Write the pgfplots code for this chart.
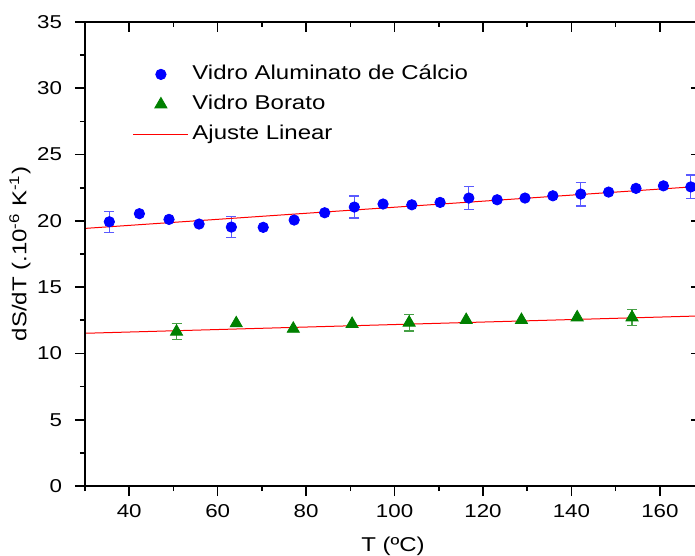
\documentclass[border=0pt]{standalone}
\usepackage{fontspec}
\setmainfont{Liberation Sans}[FakeStretch=1.2]
\usepackage{pgfplots}
\pgfplotsset{compat=1.18}
\definecolor{ogreen}{RGB}{0,128,0}
\definecolor{oblue}{RGB}{0,0,255}
\definecolor{ored}{RGB}{255,0,0}
\definecolor{eblue}{RGB}{90,90,255}
\definecolor{egreen}{RGB}{70,160,70}
\begin{document}
\begin{tikzpicture}
\pgfplotsset{
  base/.style={
    scale only axis, width=308pt, height=232pt,
    xmin=30, xmax=169.3, ymin=0, ymax=35,
    axis line style={line width=0.9pt, black},
    xtick={40,60,...,160}, minor xtick={30,50,...,170},
    ytick={0,5,...,35}, minor ytick={2.5,7.5,...,32.5},
    major tick length=5pt, minor tick length=2.5pt,
    every tick/.style={black, line width=0.8pt},
    /pgf/number format/assume math mode=true,
    ticklabel style={font=\fontsize{9.3}{11}\selectfont},
    clip=false,
  }
}
\begin{axis}[base, name=ax,
  xtick pos=bottom, ytick pos=left, tick align=outside,
  x tick label style={yshift=-0.5pt},
  y tick label style={xshift=-3pt},
  xlabel={T (ºC)},
  ylabel={dS/dT (.10\textsuperscript{-6} K\textsuperscript{-1})},
  label style={font=\fontsize{10}{12}\selectfont},
  x label style={at={(axis description cs:0.5,-0.129)}, anchor=center},
  y label style={at={(axis description cs:-0.1055,0.5)}, anchor=center},
  legend style={draw=none, fill=none, at={(axis description cs:0.0674,0.917)}, anchor=north west,
    font=\fontsize{10}{12}\selectfont,
    nodes={inner xsep=1.75pt, inner ysep=0pt, text height=7.5pt, text depth=2pt},
    row sep=5.5pt, cells={anchor=west}},
  legend image code/.code={\draw[mark repeat=2,mark phase=2] plot coordinates {(0pt,0pt)(13.75pt,0pt)(27.5pt,0pt)};},
]
% error bars (blue)
\addplot[draw=none, mark=none, forget plot,
  error bars/.cd, y dir=both, y explicit,
  error bar style={eblue, line width=0.6pt},
  error mark options={eblue, rotate=90, mark size=2.5pt, line width=0.6pt}]
  coordinates {
  (35.5,19.93) +- (0,0.80)
  (63.1,19.53) +- (0,0.78)
  (90.9,21.04) +- (0,0.83)
  (116.8,21.72) +- (0,0.88)
  (142.1,22.02) +- (0,0.90)
  (167.0,22.56) +- (0,0.90)
  };
% error bars (green)
\addplot[draw=none, mark=none, forget plot,
  error bars/.cd, y dir=both, y explicit,
  error bar style={egreen, line width=0.6pt},
  error mark options={egreen, rotate=90, mark size=2.5pt, line width=0.6pt}]
  coordinates {
  (50.7,11.64) +- (0,0.60)
  (103.3,12.32) +- (0,0.63)
  (153.7,12.72) +- (0,0.61)
  };
\addplot[only marks, mark=*, mark size=2.6pt, oblue, mark options={draw=oblue, fill=oblue}]
  coordinates {
  (35.5,19.93) (42.3,20.54) (49.0,20.11) (55.8,19.76) (63.1,19.53)
  (70.3,19.51) (77.3,20.06) (84.2,20.61) (90.9,21.04) (97.4,21.27)
  (103.9,21.21) (110.3,21.39) (116.8,21.72) (123.2,21.59) (129.5,21.72)
  (135.8,21.89) (142.1,22.02) (148.4,22.17) (154.6,22.45) (160.8,22.64)
  (167.0,22.56)
  };
\addlegendentry{Vidro Aluminato de Cálcio}
\addplot[only marks, mark=triangle*, mark size=3.5pt, ogreen, mark options={draw=ogreen, fill=ogreen}]
  coordinates {
  (50.7,11.64) (64.2,12.27) (77.1,11.86) (90.4,12.22) (103.3,12.32)
  (116.2,12.52) (128.7,12.52) (141.3,12.72) (153.7,12.72)
  };
\addlegendentry{Vidro Borato}
\addplot[ored, line width=0.5pt, mark=none] coordinates {(30,19.43) (169.3,22.61)};
\addlegendentry{Ajuste Linear}
\addplot[ored, line width=0.5pt, mark=none, forget plot] coordinates {(30,11.52) (169.3,12.83)};
\end{axis}
\begin{axis}[base,
  xtick pos=top, ytick pos=right, tick align=inside,
  xticklabels={}, yticklabels={},
]
\end{axis}
\pgfresetboundingbox
\path[use as bounding box] ([xshift=-42.5pt, yshift=-35pt]ax.south west) rectangle ([xshift=-3pt, yshift=11pt]ax.north east);
\end{tikzpicture}
\end{document}
